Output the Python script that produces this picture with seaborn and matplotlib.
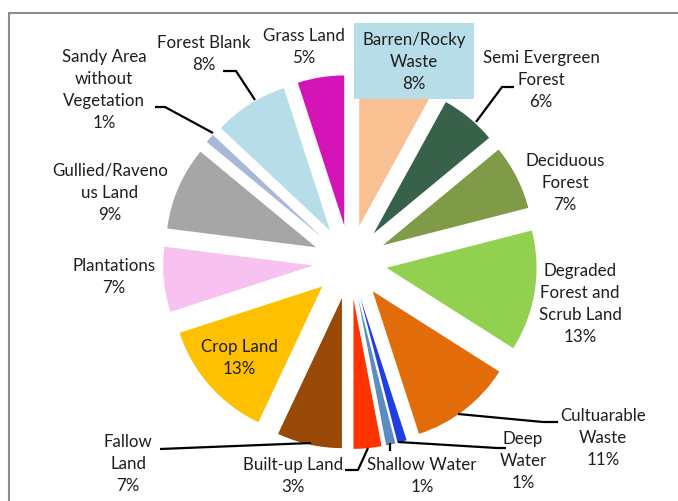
import numpy as np
import matplotlib
matplotlib.use("Agg")
import matplotlib.pyplot as plt
import seaborn as sns
from matplotlib.lines import Line2D
from matplotlib.patches import Rectangle

# land use classes, clockwise from 12 o'clock
classes = ["Barren/Rocky\nWaste", "Semi Evergreen\nForest", "Deciduous\nForest",
           "Degraded\nForest and\nScrub Land", "Cultuarable\nWaste", "Deep\nWater",
           "Shallow Water", "Built-up Land", "Fallow\nLand", "Crop Land",
           "Plantations", "Gullied/Raveno\nus Land", "Sandy Area\nwithout\nVegetation",
           "Forest Blank", "Grass Land"]
shares = [8, 6, 7, 13, 11, 1, 1, 3, 7, 13, 7, 9, 1, 8, 5]
colors = ["#F9C192", "#376148", "#7F9B48", "#92D050", "#E36C0A", "#1F3FE0",
          "#5B8BC0", "#FF3300", "#984807", "#FFC000", "#F7C2F0", "#A6A6A6",
          "#AAB8D8", "#B6DDE8", "#D514B8"]

# label centres (pixels from top-left)
label_pos = [(414, 62), (541, 80), (565, 183), (580, 304), (603, 438), (523, 461),
             (422, 476), (293, 476), (128, 464), (239, 358), (114, 277),
             (110, 193), (104, 90), (204, 54), (304, 47)]
leaders = {
    1: [(476, 122), (502, 87), (514, 87)],
    4: [(458, 414), (543, 422), (558, 422)],
    5: [(398, 442), (497, 448), (506, 448)],
    6: [(390, 443), (390, 451)],
    7: [(368, 448), (358, 470), (345, 470)],
    8: [(311, 443), (160, 449)],
    12: [(213, 133), (165, 107), (155, 107)],
    13: [(255, 100), (236, 71), (223, 71)],
}

W, H = 678, 501
sns.set_theme(style="white")
plt.rcParams["font.family"] = ["Lato", "DejaVu Sans"]

fig = plt.figure(figsize=(W / 100, H / 100), dpi=100)
ax = fig.add_axes([0, 0, 1, 1])
ax.set_xlim(0, W)
ax.set_ylim(0, H)
ax.axis("off")

ax.pie(shares, colors=colors, center=(350, H - 262), radius=150,
       explode=[37] * len(shares), startangle=90, counterclock=False,
       wedgeprops=dict(linewidth=0), frame=False)
ax.set_xlim(0, W)
ax.set_ylim(0, H)
ax.set_aspect("equal")

# light blue box behind the first label
ax.add_patch(Rectangle((354, H - 99), 120, 76, facecolor="#B6DDE8",
                       edgecolor="none", zorder=3))

for i, (name, val) in enumerate(zip(classes, shares)):
    x, y = label_pos[i]
    ax.text(x, H - y, f"{name}\n{val}%", ha="center", va="center",
            fontsize=12.2, color="#1E1E1E", linespacing=1.48, zorder=4)

for pts in leaders.values():
    xs = [p[0] for p in pts]
    ys = [H - p[1] for p in pts]
    ax.plot(xs, ys, color="black", lw=1.6, zorder=4, solid_capstyle="butt")

# chart area border (cropped on right and bottom)
fig.add_artist(Line2D([9 / W, 9 / W], [0, 1 - 13 / H], color="#8C8C8C", lw=1.5))
fig.add_artist(Line2D([9 / W, 1], [1 - 13 / H, 1 - 13 / H], color="#8C8C8C", lw=1.5))

fig.savefig("out.png", dpi=100)
